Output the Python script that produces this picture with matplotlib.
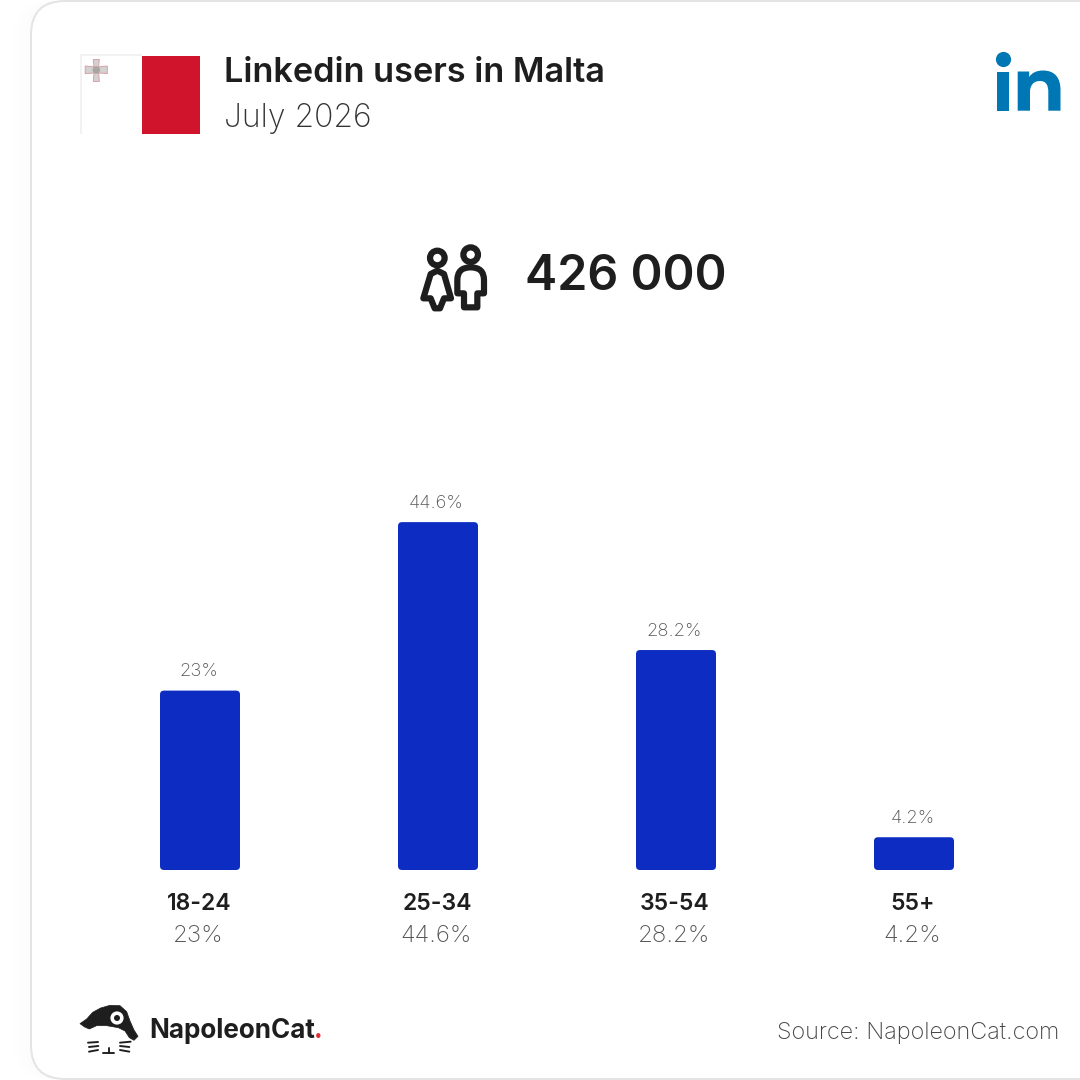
import matplotlib
matplotlib.use("Agg")
import matplotlib.pyplot as plt
from matplotlib.patches import FancyBboxPatch, Rectangle, Circle, PathPatch, Polygon
from matplotlib.path import Path

FONT = "Inter"
categories = ["18-24", "25-34", "35-54", "55+"]
shares = [23, 44.6, 28.2, 4.2]
title = "Linkedin users in Malta"
subtitle = "July 2026"
total = "426 000"
source = "Source: NapoleonCat.com"
brand = "NapoleonCat"

DARK = "#1e1e1e"
GREY = "#555555"
BLUE = "#0d2cc2"
PX = 0.72  # points per pixel at 100 dpi

fig = plt.figure(figsize=(10.8, 10.8), dpi=100, facecolor="white")
bg = fig.add_axes([0, 0, 1, 1])
bg.set_xlim(0, 1080); bg.set_ylim(1080, 0); bg.axis("off")

# very faint shadow + card
for i in range(3):
    bg.add_patch(FancyBboxPatch((31 - (i + 1) * 6, 1), 1200, 1078, boxstyle="round,pad=0,rounding_size=36",
                                fc="#000000", ec="none", alpha=0.004))
bg.add_patch(FancyBboxPatch((31, 1), 1200, 1078, boxstyle="round,pad=0,rounding_size=34",
                            fc="white", ec="#e4e4e4", lw=2 * PX))

# flag
bg.add_patch(Rectangle((80, 54), 62, 80, fc="#f2f2f2", ec="none"))
bg.add_patch(Rectangle((82, 56), 60, 78, fc="white", ec="none"))
bg.add_patch(Rectangle((142, 56), 58, 78, fc="#cf142b", ec="none"))
bg.add_patch(Polygon([(93.3, 59.5), (99.3, 59.5), (98.6, 66.8), (107.3, 66), (107.3, 73.6), (98.6, 73),
                      (99.3, 81.5), (93.3, 81.5), (94, 73), (85.2, 73.6), (85.2, 66), (94, 66.8)],
                     closed=True, fc="#d2d2d2", ec="#d9a0a8", lw=0.7))
bg.add_patch(Circle((96.3, 70), 3.8, fc="#aaa5a0", ec="none"))

# titles
bg.text(224, 73.5, title, fontsize=34.3 * PX, fontweight="semibold", family=FONT, color=DARK, va="center", ha="left")
bg.text(224, 118, subtitle, fontsize=32 * PX, fontweight="light", family=FONT, color="#333333", va="center", ha="left")
bg.text(525, 277, total, fontsize=48.5 * PX, fontweight="semibold", family=FONT, color=DARK, va="center", ha="left")

# linkedin mark
LI = "#0077b5"
bg.add_patch(Circle((1003.5, 59.5), 7.6, fc=LI, ec="none"))
bg.add_patch(Rectangle((997.3, 71.5), 12, 39.2, fc=LI, ec="none"))
n_verts = [(1017.7, 110.7), (1017.7, 71.5), (1029.2, 71.5), (1029.2, 77),
           (1032, 72.5), (1037, 70.5), (1043, 70.5),
           (1055, 70.5), (1060.5, 78), (1060.5, 90),
           (1060.5, 110.7), (1048.3, 110.7), (1048.3, 92),
           (1048.3, 85), (1046, 81), (1040, 81),
           (1033, 81), (1030, 86), (1030, 92),
           (1030, 110.7), (1017.7, 110.7)]
n_codes = [Path.MOVETO, Path.LINETO, Path.LINETO, Path.LINETO,
           Path.CURVE4, Path.CURVE4, Path.CURVE4,
           Path.CURVE4, Path.CURVE4, Path.CURVE4,
           Path.LINETO, Path.LINETO, Path.LINETO,
           Path.CURVE4, Path.CURVE4, Path.CURVE4,
           Path.CURVE4, Path.CURVE4, Path.CURVE4,
           Path.LINETO, Path.CLOSEPOLY]
bg.add_patch(PathPatch(Path(n_verts, n_codes), fc=LI, ec="none"))

# people icon (traced on a 3x grid)
def ic(x, y):
    return (400 + x / 3, 230 + y / 3)
icon_lw = 6.2 * PX
bg.add_patch(Circle(ic(112, 84), 7.3, fc="none", ec=DARK, lw=icon_lw))
bg.add_patch(Circle(ic(212, 74), 7.3, fc="none", ec=DARK, lw=icon_lw))
bg.add_patch(Polygon([ic(*p) for p in [(112, 122), (92, 132), (70, 205), (92, 205), (104, 235), (120, 235),
                                       (132, 205), (153, 205), (132, 132)]],
                     closed=True, fc="none", ec=DARK, lw=icon_lw, joinstyle="round"))
man = [ic(172, 190), ic(172, 150), ic(172, 112), ic(212, 112), ic(252, 112), ic(252, 150), ic(252, 190),
       ic(232, 190), ic(232, 232), ic(192, 232), ic(192, 190), ic(172, 190)]
man_c = [Path.MOVETO, Path.LINETO, Path.CURVE3, Path.CURVE3, Path.CURVE3, Path.CURVE3, Path.LINETO,
         Path.LINETO, Path.LINETO, Path.LINETO, Path.LINETO, Path.CLOSEPOLY]
bg.add_patch(PathPatch(Path(man, man_c), fc="none", ec=DARK, lw=icon_lw, joinstyle="round"))

# cat logo (traced on a 3x grid)
def lg(x, y):
    return (70 + x / 3, 995 + y / 3)
bg.add_patch(Polygon([lg(*p) for p in [(30, 86), (50, 72), (68, 52), (92, 39), (120, 31), (150, 32), (170, 50),
                                       (180, 78), (192, 105), (204, 124), (192, 136), (178, 128), (165, 108),
                                       (145, 98), (110, 92), (80, 92), (58, 102), (44, 96)]],
                     closed=True, fc=DARK, ec=DARK, lw=0.5, joinstyle="round"))
bg.add_patch(Circle(lg(141, 69), 6.6, fc="white", ec="none"))
bg.add_patch(Circle(lg(141, 69), 3, fc=DARK, ec="none"))
for seg in [[(54, 143), (84, 141)], [(57, 156), (85, 153)], [(57, 170), (84, 165)],
            [(150, 143), (182, 140)], [(150, 153), (178, 156)], [(150, 165), (178, 170)],
            [(100, 174), (132, 174)], [(116, 158), (116, 174)]]:
    bg.plot(*zip(*[lg(*p) for p in seg]), color=DARK, lw=1.9 * PX, solid_capstyle="round")
bg.text(149, 1031.5, brand, fontsize=26 * PX, fontweight="bold", family=FONT, color=DARK, va="center", ha="left")
bg.text(314, 1031.5, ".", fontsize=26 * PX, fontweight="bold", family=FONT, color="#e02b35", va="center", ha="left")
bg.text(1059, 1032.5, source, fontsize=23.4 * PX, fontweight="light", family=FONT, color="#444444", va="center", ha="right")

# bar chart: 238 px per category, 7.8 px per percentage point
ax = fig.add_axes([81 / 1080, (1080 - 870) / 1080, 952 / 1080, 390 / 1080])
ax.set_xlim(-0.5, 3.5); ax.set_ylim(0, 50); ax.axis("off"); ax.patch.set_alpha(0)
bw = 80 / 238
rad = 4 / 238
aspect = (4 / 7.8) / rad
for i, (c, v) in enumerate(zip(categories, shares)):
    ax.add_patch(FancyBboxPatch((i - bw / 2, 0), bw, v, boxstyle=f"round,pad=0,rounding_size={rad}",
                                mutation_aspect=aspect, fc=BLUE, ec="none"))
    ax.annotate(f"{v:g}%", (i, v), xytext=(-1.5 * PX, 19 * PX), textcoords="offset points", ha="center", va="center",
                fontsize=18.4 * PX, fontweight="light", family=FONT, color=GREY, annotation_clip=False)
    ax.annotate(c, (i, 0), xytext=(-1 * PX, -33.5 * PX), textcoords="offset points", ha="center", va="center",
                fontsize=23 * PX, fontweight="semibold", family=FONT, color=DARK, annotation_clip=False)
    ax.annotate(f"{v:g}%", (i, 0), xytext=(-1.5 * PX, -66 * PX), textcoords="offset points", ha="center", va="center",
                fontsize=24 * PX, fontweight="light", family=FONT, color=GREY, annotation_clip=False)

fig.savefig("out.png", dpi=100)
